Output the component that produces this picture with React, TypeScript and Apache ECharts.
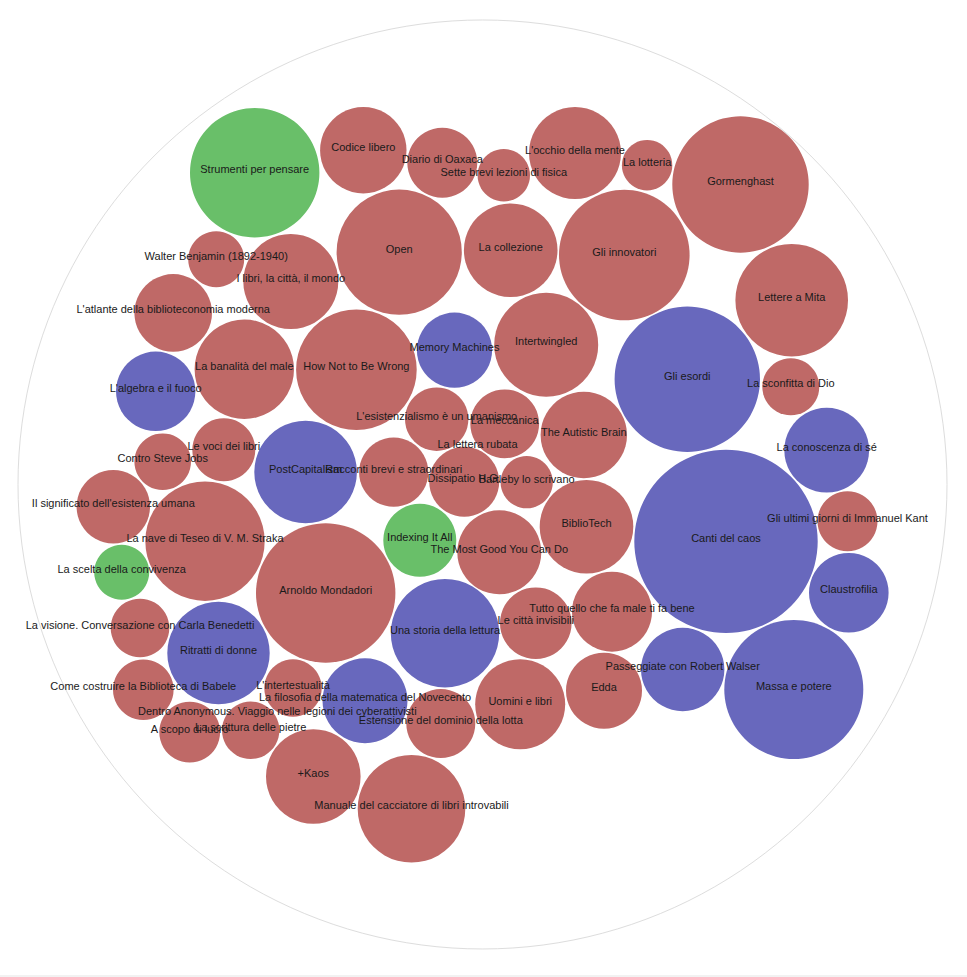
import React, { useEffect, useRef } from "react";
import * as echarts from "echarts";

const titles: string[] = [
  "Strumenti per pensare", "Codice libero", "Diario di Oaxaca", "Sette brevi lezioni di fisica",
  "L'occhio della mente", "La lotteria", "Gormenghast", "Walter Benjamin (1892-1940)",
  "I libri, la città, il mondo", "Open", "La collezione", "Gli innovatori", "Lettere a Mita",
  "L'atlante della biblioteconomia moderna", "La banalità del male", "How Not to Be Wrong",
  "Memory Machines", "Intertwingled", "Gli esordi", "La sconfitta di Dio", "L'algebra e il fuoco",
  "L'esistenzialismo è un umanismo", "La meccanica", "The Autistic Brain", "La conoscenza di sé",
  "Contro Steve Jobs", "Le voci dei libri", "PostCapitalism", "Racconti brevi e straordinari",
  "La lettera rubata", "Dissipatio H.G.", "Bartleby lo scrivano", "BiblioTech", "Canti del caos",
  "Gli ultimi giorni di Immanuel Kant", "Il significato dell'esistenza umana",
  "La nave di Teseo di V. M. Straka", "Indexing It All", "The Most Good You Can Do",
  "La scelta della convivenza", "Arnoldo Mondadori", "Claustrofilia",
  "Tutto quello che fa male ti fa bene", "Le città invisibili", "Una storia della lettura",
  "La visione. Conversazione con Carla Benedetti", "Ritratti di donne",
  "Passeggiate con Robert Walser", "Massa e potere", "Edda", "Uomini e libri",
  "Come costruire la Biblioteca di Babele", "L'intertestualità",
  "La filosofia della matematica del Novecento", "Estensione del dominio della lotta",
  "Dentro Anonymous. Viaggio nelle legioni dei cyberattivisti", "A scopo di lucro",
  "La scrittura delle pietre", "+Kaos", "Manuale del cacciatore di libri introvabili",
];

// g = green, r = red, b = blue
const groups: string[] = [
  "g", "r", "r", "r", "r", "r", "r", "r",
  "r", "r", "r", "r", "r",
  "r", "r", "r",
  "b", "r", "b", "r", "b",
  "r", "r", "r", "b",
  "r", "r", "b", "r",
  "r", "r", "r", "r", "b",
  "r", "r",
  "r", "g", "r",
  "g", "r", "b",
  "r", "r", "b",
  "r", "b",
  "b", "b", "r", "r",
  "r", "r",
  "b", "r",
  "r", "r",
  "r", "r", "r",
];

const centerX: number[] = [
  254.7, 363.3, 442.3, 503.8, 575, 647.1, 740.5, 216.2,
  290.8, 399.2, 510.7, 624.3, 791.7,
  173.2, 244.3, 356.4,
  454.5, 546.2, 687.3, 790.8, 155.7,
  436.7, 504.7, 583.8, 826.7,
  162.7, 223.8, 305.6, 393.7,
  477.5, 464.2, 526.7, 586.5, 726,
  847.5, 113.3,
  205, 419.8, 499.3,
  121.7, 325.7, 848.8,
  612, 535.8, 445,
  140, 218.5,
  682.7, 793.8, 604, 520.2,
  143.3, 293,
  365, 440.8,
  277.3, 189.7,
  250.7, 313.3, 411.5,
];

const centerY: number[] = [
  172.7, 150.2, 162.7, 175.3, 153, 165.2, 184.5, 259.3,
  281.5, 252.2, 250.2, 255, 300.2,
  312.9, 369.3, 369.7,
  350.2, 344.7, 379.3, 386.8, 391.3,
  419.2, 423.8, 435, 450.2,
  461.7, 449.8, 472, 472.2,
  447.8, 481.7, 482.2, 526.7, 541.4,
  521.3, 506.7,
  541.2, 540.3, 552.3,
  572.2, 593, 592.7,
  611.7, 623.2, 633.2,
  628, 653,
  669.5, 689.5, 690.7, 704.3,
  689.7, 688,
  700.7, 723.5,
  714.8, 732.2,
  730.3, 776.5, 808.8,
];

const radii: number[] = [
  64.7, 43.2, 35, 26.2, 46, 25.2, 68.2, 28,
  47.5, 62.6, 46.8, 65.3, 56.3,
  38.8, 49.7, 60.3,
  37.6, 52, 72.7, 28.5, 39.7,
  31.7, 34.4, 43.2, 42.4,
  28.3, 31.5, 51.3, 34.6,
  0.5, 35, 26.1, 46.8, 91.7,
  30, 36.7,
  59.7, 36.5, 42,
  27.5, 69.7, 39.8,
  40, 35.8, 54.2,
  29.3, 51.2,
  41.7, 69.5, 38, 45,
  30.3, 28.7,
  42.5, 34.5,
  0.5, 30.4,
  28.7, 47.3, 53.8,
];

const rootCircle: number[] = [482.5, 484.5, 464.5];

const palette: Record<string, string> = {
  r: "#bf6967",
  b: "#6868bd",
  g: "#69bf69",
};

export default function App() {
  const ref = useRef<HTMLDivElement>(null);

  useEffect(() => {
    if (!ref.current) return;
    const chart = echarts.init(ref.current, null, { renderer: "svg" });
    const data = titles.map((t, i) => [centerX[i], centerY[i], radii[i], i]);

    chart.setOption({
      animation: false,
      grid: { left: 0, right: 0, top: 0, bottom: 0 },
      xAxis: { type: "value", min: 0, max: 967, show: false },
      yAxis: { type: "value", min: 0, max: 975, inverse: true, show: false },
      series: [
        {
          type: "custom",
          silent: true,
          data: [rootCircle],
          renderItem: (params: any, api: any) => {
            const c = api.coord([api.value(0), api.value(1)]);
            const s = api.size([api.value(2), 0]);
            return {
              type: "circle",
              shape: { cx: c[0], cy: c[1], r: s[0] },
              style: { fill: "#ffffff", stroke: "#dddddd", lineWidth: 1 },
            };
          },
        },
        {
          type: "custom",
          data,
          renderItem: (params: any, api: any) => {
            const c = api.coord([api.value(0), api.value(1)]);
            const s = api.size([api.value(2), 0]);
            const idx = api.value(3) as number;
            return {
              type: "group",
              children: [
                {
                  type: "circle",
                  z2: 1,
                  shape: { cx: c[0], cy: c[1], r: s[0] },
                  style: { fill: palette[groups[idx]] },
                },
                {
                  type: "text",
                  z2: 100,
                  x: c[0],
                  y: c[1] - 3.5,
                  style: {
                    text: titles[idx],
                    align: "center",
                    verticalAlign: "middle",
                    fill: "#1a1a1a",
                    fontSize: 11,
                    fontFamily: '"Liberation Sans", Arial, sans-serif',
                  },
                },
              ],
            };
          },
        },
      ],
    });

    return () => chart.dispose();
  }, []);

  return (
    <div style={{ position: "fixed", left: 0, top: 0, width: 967, height: 977, background: "#f2f2f2" }}>
      <div
        ref={ref}
        style={{ position: "absolute", left: 0, top: 0, width: 967, height: 975, background: "#ffffff" }}
      />
    </div>
  );
}
